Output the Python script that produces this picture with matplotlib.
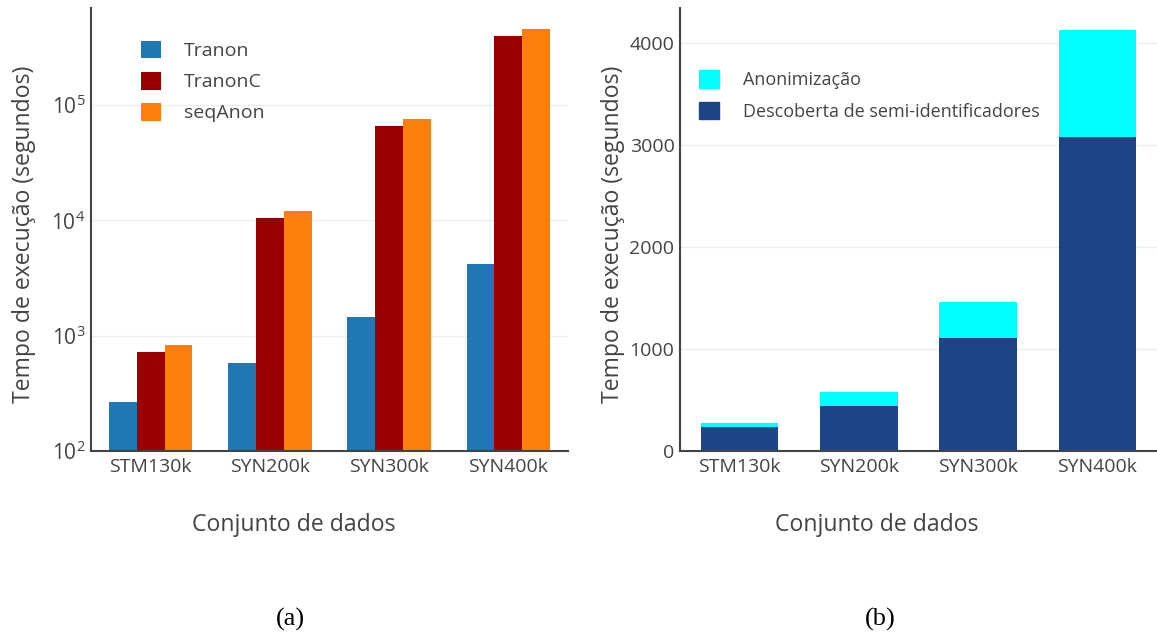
import matplotlib
matplotlib.use("Agg")
import numpy as np
import matplotlib.pyplot as plt
from matplotlib.patches import Patch
from matplotlib.ticker import FixedLocator, FuncFormatter

plt.rcParams["font.family"] = ["Open Sans", "DejaVu Sans"]
plt.rcParams["mathtext.fontset"] = "custom"
plt.rcParams["mathtext.rm"] = "Open Sans"

# Execution times (seconds) per dataset
datasets = ["STM130k", "SYN200k", "SYN300k", "SYN400k"]
tranon = [265, 578, 1446, 4160]
tranon_c = [720, 10400, 65100, 392000]
seq_anon = [828, 11970, 74800, 451000]

# Tranon time split into its two phases
descoberta = [235, 440, 1105, 3080]
anonimizacao = [39, 137, 351, 1045]

text_gray = "#444444"
grid_gray = "#eeeeee"

fig = plt.figure(figsize=(11.57, 6.36), dpi=100)
W, H = 1157, 636
ax_a = fig.add_axes([91 / W, 1 - 451 / H, 477 / W, 443 / H])
ax_b = fig.add_axes([680 / W, 1 - 451 / H, 477 / W, 443 / H])

x = np.arange(len(datasets))

legend_kw = dict(loc="upper left", frameon=False, labelcolor=text_gray,
                 borderpad=0, borderaxespad=0)


def style_axes(ax, xlabel_x):
    for side in ["top", "right"]:
        ax.spines[side].set_visible(False)
    for side in ["left", "bottom"]:
        ax.spines[side].set_color(text_gray)
        ax.spines[side].set_linewidth(1.5)
    ax.tick_params(axis="both", length=0, colors=text_gray, labelsize=14)
    ax.tick_params(axis="y", pad=4)
    ax.tick_params(axis="x", pad=5)
    ax.grid(axis="y", color=grid_gray, linewidth=1)
    ax.set_axisbelow(True)
    ax.set_xticks(x)
    ax.set_xticklabels(datasets)
    ax.set_xlim(-0.5, 3.5)
    ax.set_xlabel("Conjunto de dados", fontsize=16.6, color=text_gray)
    ax.xaxis.set_label_coords(xlabel_x, -62 / 443, transform=ax.transAxes)
    ax.set_ylabel("Tempo de execução (segundos)", fontsize=16.6, color=text_gray)
    ax.yaxis.set_label_coords(-55 / 477, 0.49, transform=ax.transAxes)


# (a) grouped bars on a log scale
w = 0.233
ax_a.bar(x - w, tranon, w, color="#1f77b4", label="Tranon")
ax_a.bar(x, tranon_c, w, color="#990000", label="TranonC")
ax_a.bar(x + w, seq_anon, w, color="#ff7f0e", label="seqAnon")
ax_a.set_yscale("log")
ax_a.set_ylim(100, 10 ** 5.84)
style_axes(ax_a, (294 - 91) / 477)
ax_a.yaxis.set_major_locator(FixedLocator([1e2, 1e3, 1e4, 1e5]))
ax_a.yaxis.set_minor_locator(FixedLocator([]))
ax_a.yaxis.set_major_formatter(
    FuncFormatter(lambda v, p: "$\\mathregular{10^{%d}}$" % round(np.log10(v))))
ax_a.tick_params(axis="y", labelsize=15)
ax_a.legend(bbox_to_anchor=(50 / 477, 0.9266), fontsize=14,
            handlelength=1.03, handleheight=1.03, handletextpad=1.18,
            labelspacing=0.6, **legend_kw)

# (b) stacked bars for the two phases
bw = 0.65
ax_b.bar(x, descoberta, bw, color="#1e4488", label="Descoberta de semi-identificadores")
ax_b.bar(x, anonimizacao, bw, bottom=descoberta, color="#00ffff", label="Anonimização")
ax_b.set_ylim(0, 4340)
style_axes(ax_b, (877 - 680) / 477)
ax_b.set_yticks([0, 1000, 2000, 3000, 4000])
handles = [Patch(color="#00ffff"), Patch(color="#1e4488")]
ax_b.legend(handles, ["Anonimização", "Descoberta de semi-identificadores"],
            bbox_to_anchor=(19 / 477, 0.859), fontsize=13,
            handlelength=1.1, handleheight=1.1, handletextpad=1.33,
            labelspacing=0.7, **legend_kw)

fig.text(290 / W, 1 - 619 / H, "(a)", ha="center", va="center",
         fontsize=19, family="Liberation Serif")
fig.text(880 / W, 1 - 619 / H, "(b)", ha="center", va="center",
         fontsize=19, family="Liberation Serif")

fig.savefig("out.png", dpi=100)
